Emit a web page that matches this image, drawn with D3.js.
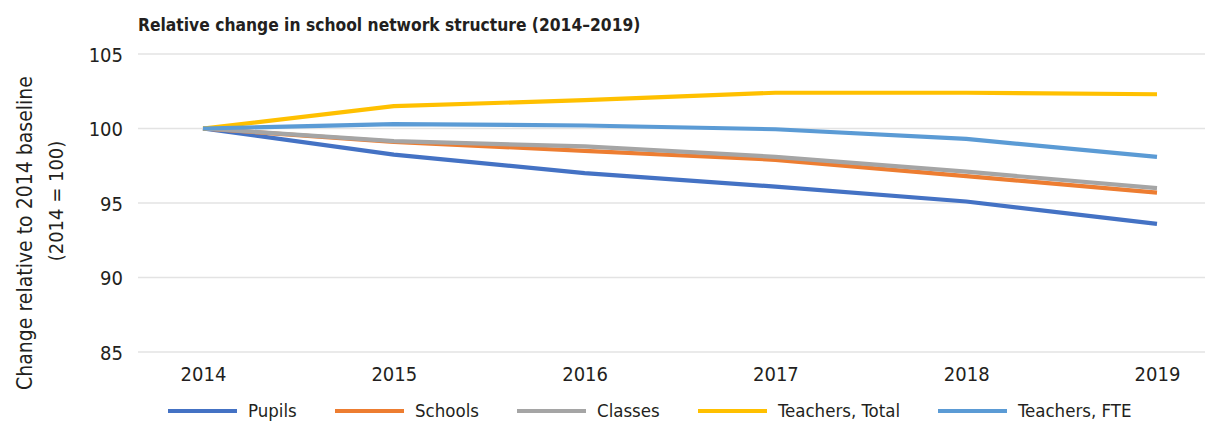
<!DOCTYPE html>
<html><head><meta charset="utf-8">
<script src="https://cdn.jsdelivr.net/npm/d3@7"></script>
<style>
body{margin:0;background:#fff;}
svg text{font-family:"Liberation Sans Narrow","DejaVu Sans Condensed","Arial Narrow",sans-serif;fill:#231f20;}
</style></head>
<body><svg id="c" width="1207" height="424"></svg>
<script>
const years = ["2014","2015","2016","2017","2018","2019"];
const pupils = [100, 98.25, 97.0, 96.1, 95.1, 93.6];
const schools = [100, 99.1, 98.5, 97.9, 96.8, 95.7];
const classes = [100, 99.15, 98.8, 98.1, 97.1, 96.0];
const teachersTotal = [100, 101.5, 101.9, 102.4, 102.4, 102.3];
const teachersFTE = [100, 100.3, 100.2, 99.95, 99.3, 98.1];
const yTicks = [85, 90, 95, 100, 105];
const seriesNames = ["Pupils","Schools","Classes","Teachers, Total","Teachers, FTE"];
const seriesColors = ["#4472C4","#ED7D31","#A5A5A5","#FFC000","#5B9BD5"];
const seriesData = [pupils, schools, classes, teachersTotal, teachersFTE];

const svg = d3.select("#c");
const x = d3.scalePoint().domain(years).range([203, 1157]);
const y = d3.scaleLinear().domain([85, 105]).range([352, 54]);

svg.append("text").attr("x",138).attr("y",31).attr("font-size",17.3).attr("font-weight","bold")
  .text("Relative change in school network structure (2014\u20132019)");

// gridlines
svg.append("g").selectAll("line").data(yTicks).join("line")
  .attr("x1",138).attr("x2",1205).attr("y1",d=>y(d)).attr("y2",d=>y(d))
  .attr("stroke","#e3e3e3").attr("stroke-width",1.3);

// y axis
const ya = svg.append("g").attr("transform","translate(123,0)")
  .call(d3.axisLeft(y).tickValues(yTicks).tickSize(0).tickPadding(0));
ya.select(".domain").remove();
ya.selectAll("text").attr("font-size",20).attr("dy","0.35em").style("font-family",null);

// x axis
const xa = svg.append("g").attr("transform","translate(0,366)")
  .call(d3.axisBottom(x).tickSize(0).tickPadding(0));
xa.select(".domain").remove();
xa.selectAll("text").attr("font-size",20).attr("dy","0.75em").style("font-family",null);

// y title
svg.append("text").attr("transform","translate(32,233) rotate(-90)").attr("text-anchor","middle")
  .attr("font-size",21).text("Change relative to 2014 baseline");
svg.append("text").attr("transform","translate(63,201) rotate(-90)").attr("text-anchor","middle")
  .attr("font-size",20).text("(2014 = 100)");

// lines
const line = d3.line().x((d,i)=>x(years[i])).y(d=>y(d));
svg.append("g").selectAll("path").data(seriesData).join("path")
  .attr("d",d=>line(d)).attr("fill","none")
  .attr("stroke",(d,i)=>seriesColors[i]).attr("stroke-width",4.2)
  .attr("stroke-linejoin","round");

// legend
const legX = [168, 335, 517, 698, 938];
const lg = svg.append("g").selectAll("g").data(seriesNames).join("g")
  .attr("transform",(d,i)=>`translate(${legX[i]},411)`);
lg.append("line").attr("x1",0).attr("x2",69).attr("y1",0).attr("y2",0)
  .attr("stroke",(d,i)=>seriesColors[i]).attr("stroke-width",4.2);
lg.append("text").attr("x",80).attr("y",0).attr("dy","0.35em").attr("font-size",18.5).text(d=>d);
</script></body></html>
